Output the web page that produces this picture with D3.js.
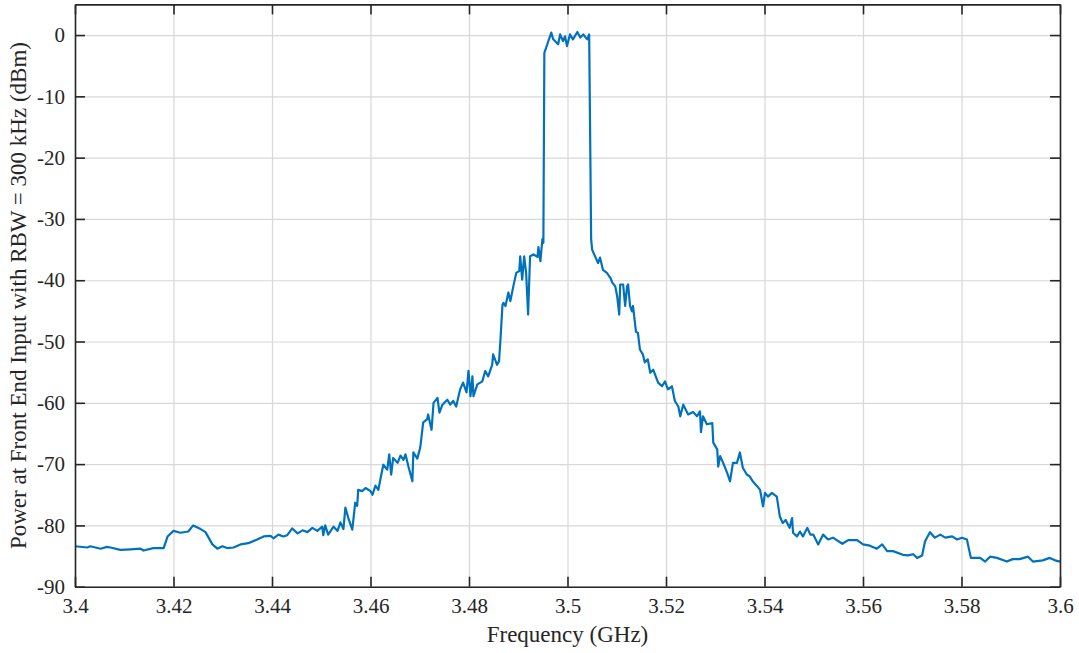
<!DOCTYPE html>
<html>
<head>
<meta charset="utf-8">
<script src="https://cdn.jsdelivr.net/npm/d3@7/dist/d3.min.js"></script>
<style>
  html, body { margin: 0; padding: 0; background: #fff; }
  svg { display: block; }
  text { font-family: "Liberation Serif", "Times New Roman", serif; fill: #262626; }
</style>
</head>
<body>
<svg id="chart" width="1079" height="653"></svg>
<script>
// Spectrum of the front-end input, RBW = 300 kHz
const freqGHz = [
  3.4000, 3.4025, 3.4031, 3.4052, 3.4065, 3.4072, 3.4092, 3.4113, 3.4133, 3.4139,
  3.4159, 3.4180, 3.4188, 3.4200, 3.4214, 3.4230, 3.4240, 3.4255, 3.4265, 3.4279,
  3.4289, 3.4299, 3.4309, 3.4322, 3.4336, 3.4352, 3.4370, 3.4383, 3.4397, 3.4403,
  3.4413, 3.4423, 3.4431, 3.4441, 3.4452, 3.4462, 3.4472, 3.4482, 3.4492, 3.4502,
  3.4504, 3.4508, 3.4514, 3.4525, 3.4533, 3.4539, 3.4545, 3.4549, 3.4555, 3.4563,
  3.4569, 3.4573, 3.4575, 3.4583, 3.4590, 3.4600, 3.4604, 3.4610, 3.4616, 3.4620,
  3.4626, 3.4634, 3.4638, 3.4642, 3.4646, 3.4655, 3.4661, 3.4667, 3.4671, 3.4677,
  3.4685, 3.4687, 3.4695, 3.4701, 3.4707, 3.4715, 3.4717, 3.4724, 3.4728, 3.4736,
  3.4740, 3.4746, 3.4756, 3.4762, 3.4768, 3.4774, 3.4782, 3.4788, 3.4795, 3.4799,
  3.4803, 3.4807, 3.4809, 3.4817, 3.4827, 3.4833, 3.4839, 3.4847, 3.4849, 3.4857,
  3.4861, 3.4864, 3.4868, 3.4870, 3.4874, 3.4880, 3.4884, 3.4890, 3.4896, 3.4902,
  3.4904, 3.4908, 3.4912, 3.4916, 3.4920, 3.4924, 3.4931, 3.4939, 3.4941, 3.4945,
  3.4949, 3.4951, 3.4953, 3.4959, 3.4967, 3.4971, 3.4981, 3.4985, 3.4991, 3.4995,
  3.4999, 3.5005, 3.5011, 3.5020, 3.5026, 3.5032, 3.5040, 3.5044, 3.5048, 3.5050,
  3.5056, 3.5062, 3.5066, 3.5072, 3.5080, 3.5087, 3.5091, 3.5097, 3.5101, 3.5105,
  3.5107, 3.5113, 3.5117, 3.5121, 3.5123, 3.5127, 3.5131, 3.5133, 3.5139, 3.5143,
  3.5147, 3.5153, 3.5157, 3.5163, 3.5168, 3.5174, 3.5184, 3.5192, 3.5198, 3.5204,
  3.5212, 3.5218, 3.5225, 3.5229, 3.5235, 3.5245, 3.5255, 3.5263, 3.5269, 3.5271,
  3.5275, 3.5283, 3.5294, 3.5296, 3.5304, 3.5306, 3.5310, 3.5316, 3.5324, 3.5330,
  3.5336, 3.5344, 3.5350, 3.5356, 3.5364, 3.5370, 3.5376, 3.5385, 3.5391, 3.5397,
  3.5401, 3.5407, 3.5415, 3.5425, 3.5431, 3.5437, 3.5443, 3.5451, 3.5456, 3.5458,
  3.5466, 3.5472, 3.5478, 3.5487, 3.5493, 3.5499, 3.5509, 3.5519, 3.5529, 3.5539,
  3.5558, 3.5570, 3.5588, 3.5600, 3.5614, 3.5628, 3.5639, 3.5649, 3.5661, 3.5681,
  3.5691, 3.5702, 3.5710, 3.5720, 3.5726, 3.5736, 3.5746, 3.5757, 3.5767, 3.5781,
  3.5791, 3.5801, 3.5811, 3.5819, 3.5838, 3.5848, 3.5858, 3.5872, 3.5892, 3.5904,
  3.5918, 3.5935, 3.5945, 3.5965, 3.5979, 3.5990, 3.6000
];

const powerDBm = [
  -83.4, -83.6, -83.4, -83.8, -83.5, -83.6, -84.0, -83.9, -83.8, -84.1,
  -83.7, -83.7, -81.8, -80.9, -81.2, -81.0, -80.0, -80.6, -81.1, -83.1,
  -83.8, -83.4, -83.7, -83.6, -83.1, -82.9, -82.3, -81.8, -81.7, -82.1,
  -81.5, -81.8, -81.6, -80.5, -81.3, -80.8, -81.1, -80.4, -80.9, -80.2,
  -81.6, -80.0, -81.5, -80.2, -80.9, -79.5, -80.6, -77.1, -78.8, -80.7,
  -76.3, -76.8, -74.2, -74.4, -73.9, -74.4, -75.0, -73.5, -74.2, -72.5,
  -70.1, -70.9, -68.4, -71.7, -69.0, -69.8, -68.6, -69.3, -68.4, -70.4,
  -72.8, -68.1, -69.1, -67.3, -63.2, -62.7, -61.9, -64.4, -60.0, -59.2,
  -61.6, -60.3, -59.5, -60.3, -59.7, -60.6, -57.8, -56.7, -58.3, -54.8,
  -58.9, -55.7, -58.9, -57.0, -56.5, -54.8, -55.7, -53.8, -52.1, -53.8,
  -53.2, -49.5, -44.0, -43.7, -44.2, -42.0, -43.4, -41.0, -38.8, -38.5,
  -36.1, -39.9, -36.1, -38.8, -45.6, -36.1, -35.8, -36.2, -34.6, -36.9,
  -33.3, -33.9, -2.9, -1.5, 0.4, -0.7, -1.5, 0.1, -1.0, -0.2,
  -1.8, 0.1, -0.7, 0.5, -0.4, 0.1, -0.7, 0.1, -33.3, -35.0,
  -36.1, -37.2, -36.3, -38.3, -38.8, -39.6, -40.4, -41.0, -42.7, -45.6,
  -40.7, -40.7, -44.2, -41.0, -40.7, -44.2, -45.1, -44.2, -48.4, -48.6,
  -51.3, -52.1, -53.4, -52.9, -55.1, -54.6, -56.7, -57.3, -56.5, -57.8,
  -57.3, -59.7, -60.6, -62.2, -60.3, -61.9, -61.5, -62.2, -61.4, -64.8,
  -62.2, -63.5, -63.3, -66.5, -67.6, -70.4, -68.7, -69.8, -71.4, -72.8,
  -69.8, -69.8, -68.1, -70.6, -71.7, -72.0, -72.8, -73.6, -74.2, -76.9,
  -74.7, -75.3, -74.7, -75.3, -78.5, -79.6, -79.1, -80.4, -78.8, -81.2,
  -81.8, -81.0, -81.8, -80.4, -81.5, -81.5, -83.1, -81.5, -82.3, -82.0,
  -83.0, -82.4, -82.4, -83.1, -83.3, -83.8, -83.1, -84.2, -84.2, -84.8,
  -84.9, -84.7, -85.3, -84.9, -82.6, -81.1, -82.0, -81.5, -82.0, -81.8,
  -82.3, -82.0, -82.3, -85.3, -85.3, -85.9, -85.1, -85.3, -85.9, -85.5,
  -85.5, -85.1, -85.9, -85.7, -85.3, -85.7, -85.9
];

const xTicks = [3.4, 3.42, 3.44, 3.46, 3.48, 3.5, 3.52, 3.54, 3.56, 3.58, 3.6];
const yTicks = [-90, -80, -70, -60, -50, -40, -30, -20, -10, 0];

const xLabel = "Frequency (GHz)";
const yLabel = "Power at Front End Input with RBW = 300 kHz (dBm)";

// Layout
const plot = { left: 75, right: 1060, top: 4.4, bottom: 586.7 };
const W = plot.right - plot.left, H = plot.bottom - plot.top;
const axisColor = "#262626";
const serif = "'Liberation Serif', 'Times New Roman', serif";
const tickLen = 10;

const svg = d3.select("#chart");

const x = d3.scaleLinear().domain([3.4, 3.6]).range([plot.left, plot.right]);
const y = d3.scaleLinear().domain([-90, 5]).range([plot.bottom, plot.top]);

const fmtX = d => String(+d.toFixed(2));
const fmtY = d => String(d);

// Grid lines
const grid = svg.append("g").attr("class", "grid");
grid.append("g")
  .attr("transform", `translate(0,${plot.bottom})`)
  .call(d3.axisBottom(x).tickValues(xTicks).tickSize(-H).tickFormat(""))
  .call(g => g.select(".domain").remove())
  .call(g => g.selectAll("line").attr("stroke", "#d8d8d8").attr("stroke-width", 1.2));
grid.append("g")
  .attr("transform", `translate(${plot.left},0)`)
  .call(d3.axisLeft(y).tickValues(yTicks).tickSize(-W).tickFormat(""))
  .call(g => g.select(".domain").remove())
  .call(g => g.selectAll("line").attr("stroke", "#d8d8d8").attr("stroke-width", 1.2));

// Spectrum trace
const pts = freqGHz.map((f, i) => [f, powerDBm[i]]);
const line = d3.line().x(d => x(d[0])).y(d => y(d[1]));
svg.append("path")
  .datum(pts)
  .attr("fill", "none")
  .attr("stroke", "#0072BD")
  .attr("stroke-width", 2.2)
  .attr("stroke-linejoin", "round")
  .attr("d", line);

// Axes: inward ticks on all four sides
function styleAxis(g) {
  g.attr("font-family", serif).attr("font-size", 21);
  g.select(".domain").attr("stroke", axisColor).attr("stroke-width", 1.6);
  g.selectAll(".tick line").attr("stroke", axisColor).attr("stroke-width", 1.6);
  g.selectAll("text").attr("fill", axisColor)
    .style("font-size", "21px").style("font-family", serif);
}

// Bottom: labels
svg.append("g")
  .attr("transform", `translate(0,${plot.bottom})`)
  .call(d3.axisBottom(x).tickValues(xTicks).tickFormat(fmtX).tickSizeInner(-tickLen).tickSizeOuter(0).tickPadding(11))
  .call(styleAxis);
// Top: ticks only
svg.append("g")
  .attr("transform", `translate(0,${plot.top})`)
  .call(d3.axisTop(x).tickValues(xTicks).tickFormat("").tickSizeInner(-tickLen).tickSizeOuter(0))
  .call(styleAxis);
// Left: labels
svg.append("g")
  .attr("transform", `translate(${plot.left},0)`)
  .call(d3.axisLeft(y).tickValues(yTicks).tickFormat(fmtY).tickSizeInner(-tickLen).tickSizeOuter(0).tickPadding(10))
  .call(styleAxis);
// Right: ticks only
svg.append("g")
  .attr("transform", `translate(${plot.right},0)`)
  .call(d3.axisRight(y).tickValues(yTicks).tickFormat("").tickSizeInner(-tickLen).tickSizeOuter(0))
  .call(styleAxis);

// Axis titles
svg.append("text")
  .attr("x", (plot.left + plot.right) / 2)
  .attr("y", 642)
  .attr("text-anchor", "middle")
  .style("font-family", serif)
  .style("font-size", "23px")
  .text(xLabel);

svg.append("text")
  .attr("transform", `translate(26,${(plot.top + plot.bottom) / 2}) rotate(-90)`)
  .attr("text-anchor", "middle")
  .style("font-family", serif)
  .style("font-size", "23px")
  .text(yLabel);
</script>
</body>
</html>
